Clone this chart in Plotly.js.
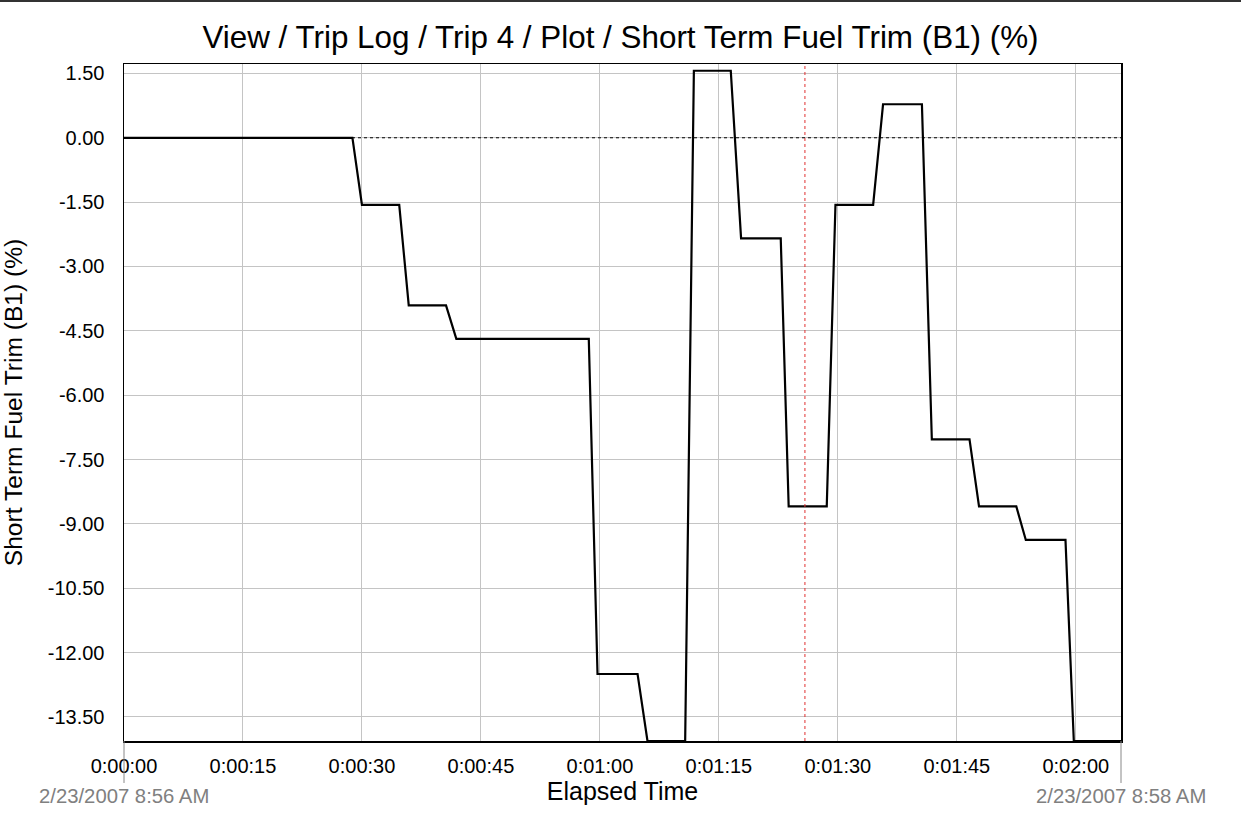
<!DOCTYPE html>
<html>
<head>
<meta charset="utf-8">
<script src="https://cdn.plot.ly/plotly-3.0.1.min.js"></script>
<style>html,body{margin:0;padding:0;background:#fff;}#chart{width:1241px;height:819px;}</style>
</head>
<body>
<div id="chart"></div>
<script>
// Elapsed time in seconds
const elapsedSeconds = [0, 28.8, 30.0, 34.7, 35.9, 40.6, 41.9, 58.6, 59.7, 64.75, 66.0, 70.75, 71.85, 76.5, 77.8, 82.8, 83.8, 88.6, 89.7, 94.45, 95.7, 100.6, 101.85, 106.6, 107.8, 112.5, 113.7, 118.7, 119.75, 125.7];
// Short Term Fuel Trim (B1) (%)
const fuelTrim = [0, 0, -1.5625, -1.5625, -3.90625, -3.90625, -4.6875, -4.6875, -12.5, -12.5, -14.0625, -14.0625, 1.5625, 1.5625, -2.34375, -2.34375, -8.59375, -8.59375, -1.5625, -1.5625, 0.78125, 0.78125, -7.03125, -7.03125, -8.59375, -8.59375, -9.375, -9.375, -14.0625, -14.0625];
const xTickVals = [0, 15, 30, 45, 60, 75, 90, 105, 120];
const xTickText = ["0:00:00", "0:00:15", "0:00:30", "0:00:45", "0:01:00", "0:01:15", "0:01:30", "0:01:45", "0:02:00"];
const yTickVals = [1.5, 0, -1.5, -3, -4.5, -6, -7.5, -9, -10.5, -12, -13.5];
const yTickText = ["1.50", "0.00", "-1.50", "-3.00", "-4.50", "-6.00", "-7.50", "-9.00", "-10.50", "-12.00", "-13.50"];
const cursorTime = 85.85;
const startLabel = "2/23/2007 8:56 AM";
const endLabel = "2/23/2007 8:58 AM";

const font = "Liberation Sans, Arial, sans-serif";

const trace = {
  x: elapsedSeconds, y: fuelTrim, type: 'scatter', mode: 'lines',
  line: {color: '#000', width: 2.2}, hoverinfo: 'skip', showlegend: false
};

const layout = {
  width: 1241, height: 819,
  margin: {l: 124, r: 120, t: 64, b: 78},
  paper_bgcolor: '#fff', plot_bgcolor: '#fff',
  font: {family: font, color: '#000'},
  title: {text: 'View / Trip Log / Trip 4 / Plot / Short Term Fuel Trim (B1) (%)',
          font: {family: font, size: 31.4, color: '#000'}, x: 0.5, xanchor: 'center', y: 0.955, yanchor: 'middle'},
  xaxis: {
    range: [0, 125.7], tickvals: xTickVals, ticktext: xTickText,
    showgrid: true, gridcolor: '#c4c4c4', gridwidth: 1,
    showline: true, linecolor: '#000', linewidth: 1.5, mirror: true,
    ticks: 'outside', ticklen: 6, tickcolor: 'rgba(0,0,0,0)',
    tickfont: {family: font, size: 20, color: '#000'},
    zeroline: false,
    title: {text: 'Elapsed Time', font: {family: font, size: 25, color: '#000'}, standoff: 5}
  },
  yaxis: {
    range: [-14.0625, 1.72], tickvals: yTickVals, ticktext: yTickText,
    showgrid: true, gridcolor: '#c4c4c4', gridwidth: 1,
    showline: true, linecolor: '#000', linewidth: 1.5, mirror: true,
    ticks: 'outside', ticklen: 14, tickcolor: 'rgba(0,0,0,0)',
    tickfont: {family: font, size: 20, color: '#000'},
    zeroline: false,
    title: {text: 'Short Term Fuel Trim (B1) (%)', font: {family: font, size: 24.6, color: '#000'}, standoff: 18}
  },
  shapes: [
    {type: 'line', xref: 'paper', x0: 0, x1: 1, yref: 'y', y0: 0, y1: 0,
     line: {color: '#000', width: 1, dash: 'dot'}},
    {type: 'line', xref: 'x', x0: cursorTime, x1: cursorTime, yref: 'paper', y0: 0, y1: 1,
     line: {color: '#e03030', width: 1, dash: 'dot'}},
    {type: 'line', xref: 'paper', x0: 0, x1: 0, yref: 'paper', y0: 0, y1: -0.062,
     line: {color: '#888', width: 1}},
    {type: 'line', xref: 'paper', x0: 1, x1: 1, yref: 'paper', y0: 0, y1: -0.062,
     line: {color: '#888', width: 1}},
    {type: 'line', xref: 'paper', x0: -0.2, x1: 1.2, yref: 'paper', y0: 1.093, y1: 1.093,
     line: {color: '#333', width: 2}}
  ],
  annotations: [
    {text: startLabel, xref: 'paper', x: 0, xanchor: 'center', yref: 'paper', y: -0.081, yanchor: 'middle',
     showarrow: false, font: {family: font, size: 20.3, color: '#808080'}},
    {text: endLabel, xref: 'paper', x: 1, xanchor: 'center', yref: 'paper', y: -0.081, yanchor: 'middle',
     showarrow: false, font: {family: font, size: 20.3, color: '#808080'}}
  ]
};

Plotly.newPlot('chart', [trace], layout, {staticPlot: true, displayModeBar: false});
</script>
</body>
</html>
